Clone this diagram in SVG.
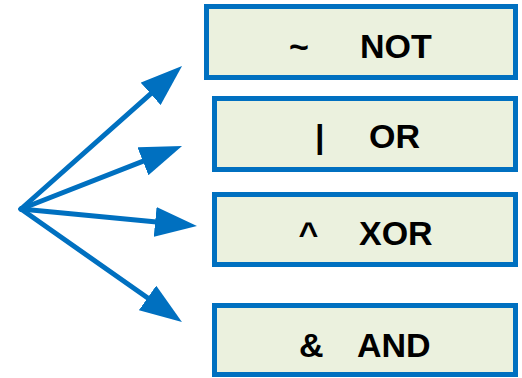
<svg xmlns="http://www.w3.org/2000/svg" width="522" height="378" viewBox="0 0 522 378">
  <style>
    .box { fill: #EBF1DE; stroke: #0070C0; stroke-width: 5; }
    .lbl { font-family: "Liberation Sans", Arial, sans-serif; font-weight: bold; font-size: 34px; fill: #000; }
    .conn { stroke: #0070C0; stroke-width: 5; fill: none; stroke-linecap: round; }
  </style>
  <defs>
    <marker id="head" markerUnits="userSpaceOnUse" markerWidth="42" markerHeight="30" viewBox="0 0 42 30" refX="12" refY="15" orient="auto">
      <path d="M0,0 L42,15 L0,30 z" fill="#0070C0"/>
    </marker>
  </defs>
  <rect width="522" height="378" fill="#FFFFFF"/>
  <g id="connectors">
    <line class="conn" x1="21" y1="209" x2="159.6" y2="85.9" marker-end="url(#head)"/>
    <line class="conn" x1="21" y1="209" x2="154.1" y2="156.9" marker-end="url(#head)"/>
    <line class="conn" x1="21" y1="209" x2="167.1" y2="223.1" marker-end="url(#head)"/>
    <line class="conn" x1="21" y1="209" x2="157.4" y2="304.8" marker-end="url(#head)"/>
  </g>
  <g id="node-not">
    <rect class="box" x="206.5" y="6.5" width="309" height="71"/>
    <text class="lbl" y="58"><tspan x="289">~</tspan><tspan x="360">NOT</tspan></text>
  </g>
  <g id="node-or">
    <rect class="box" x="214.5" y="98.5" width="301" height="71"/>
    <text class="lbl" y="148"><tspan x="315">|</tspan><tspan x="369">OR</tspan></text>
  </g>
  <g id="node-xor">
    <rect class="box" x="214.5" y="194.5" width="301" height="70"/>
    <text class="lbl" y="245"><tspan x="298.5">^</tspan><tspan x="359">XOR</tspan></text>
  </g>
  <g id="node-and">
    <rect class="box" x="214.5" y="305.5" width="301" height="69"/>
    <text class="lbl" y="357"><tspan x="299">&amp;</tspan><tspan x="357">AND</tspan></text>
  </g>
</svg>
